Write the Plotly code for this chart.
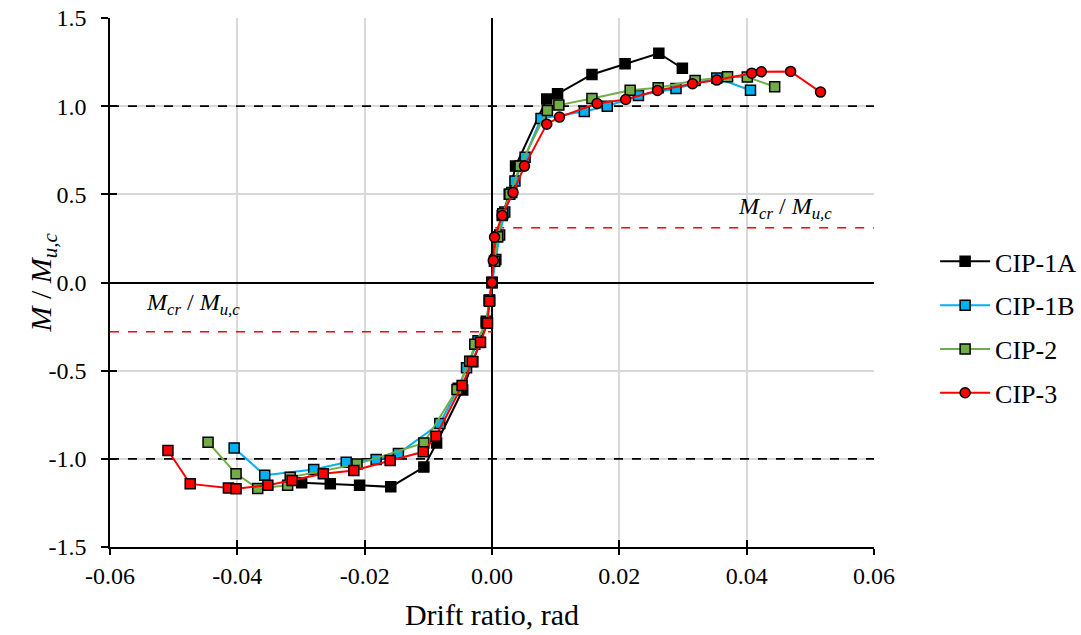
import plotly.graph_objects as go

# ---- data ----
cip1a_x = [-0.0299, -0.0254, -0.0208, -0.0159, -0.0107, -0.0087, -0.0046, -0.0030, -0.0019, -0.0008, -0.0004, 0.0,
           0.0004, 0.0008, 0.0016, 0.0027, 0.0037, 0.0086, 0.0103, 0.0157, 0.0209, 0.0262, 0.0299]
cip1a_y = [-1.136, -1.142, -1.150, -1.159, -1.047, -0.910, -0.610, -0.450, -0.340, -0.230, -0.100, 0.0,
           0.120, 0.260, 0.380, 0.500, 0.660, 1.040, 1.070, 1.180, 1.240, 1.300, 1.215]

cip1b_x = [-0.0405, -0.0357, -0.0280, -0.0229, -0.0182, -0.0147, -0.0082, -0.0053, -0.0040, -0.0022, -0.0009, -0.0004, 0.0,
           0.0006, 0.0012, 0.0020, 0.0031, 0.0036, 0.0052, 0.0077, 0.0145, 0.0181, 0.0230, 0.0289, 0.0353, 0.0406]
cip1b_y = [-0.938, -1.093, -1.060, -1.020, -1.004, -0.970, -0.800, -0.600, -0.484, -0.330, -0.220, -0.100, 0.0,
           0.130, 0.270, 0.400, 0.510, 0.575, 0.710, 0.930, 0.970, 1.000, 1.060, 1.100, 1.160, 1.090]

cip2_x = [-0.0446, -0.0402, -0.0368, -0.0321, -0.0317, -0.0212, -0.0107, -0.0055, -0.0035, -0.0027, -0.0009, -0.0004, 0.0,
          0.0004, 0.0009, 0.0017, 0.0028, 0.0044, 0.0087, 0.0105, 0.0157, 0.0217, 0.0261, 0.0319, 0.0370, 0.0401, 0.0444]
cip2_y = [-0.906, -1.085, -1.168, -1.150, -1.105, -1.030, -0.910, -0.607, -0.446, -0.350, -0.230, -0.100, 0.0,
          0.120, 0.260, 0.390, 0.500, 0.660, 0.976, 1.006, 1.044, 1.090, 1.105, 1.146, 1.167, 1.165, 1.110]

cip3_neg_x = [-0.0509, -0.0474, -0.0414, -0.0402, -0.0352, -0.0314, -0.0265, -0.0217, -0.0160, -0.0108, -0.0088,
              -0.0047, -0.0031, -0.0018, -0.0007, -0.0004, 0.0]
cip3_neg_y = [-0.953, -1.142, -1.165, -1.170, -1.150, -1.123, -1.085, -1.066, -1.010, -0.960, -0.872,
              -0.584, -0.448, -0.339, -0.229, -0.106, 0.0]
cip3_pos_x = [0.0, 0.0002, 0.0004, 0.0016, 0.0033, 0.0051, 0.0086, 0.0106, 0.0165, 0.0210, 0.0260, 0.0315,
              0.0353, 0.0408, 0.0423, 0.0469, 0.0516]
cip3_pos_y = [0.0, 0.125, 0.257, 0.380, 0.510, 0.660, 0.898, 0.938, 1.015, 1.038, 1.089, 1.127,
              1.148, 1.187, 1.195, 1.197, 1.080]

mcr_pos = 0.31
mcr_neg = -0.28
mu_level = 1.0

x_ticks = [-0.06, -0.04, -0.02, 0.0, 0.02, 0.04, 0.06]
y_ticks = [-1.5, -1.0, -0.5, 0.0, 0.5, 1.0, 1.5]
x_ticktext = [f"{v:.2f}" for v in x_ticks]
y_ticktext = [f"{v:.1f}" for v in y_ticks]

FONT = "Times New Roman, Liberation Serif, Tinos, serif"
BLUE = "#00B0F0"
GREEN = "#70AD47"
RED = "#FF0000"

fig = go.Figure()

def add(x, y, name, color, fill, symbol, showlegend=True, group=None):
    fig.add_trace(go.Scatter(
        x=x, y=y, mode="lines+markers", name=name,
        line=dict(color=color, width=2),
        marker=dict(symbol=symbol, size=10, color=fill, line=dict(color="black", width=1.5)),
        showlegend=showlegend, legendgroup=group or name,
    ))

add(cip1a_x, cip1a_y, "CIP-1A", "black", "black", "square")
add(cip1b_x, cip1b_y, "CIP-1B", BLUE, BLUE, "square")
add(cip2_x, cip2_y, "CIP-2", GREEN, GREEN, "square")
add(cip3_neg_x, cip3_neg_y, "CIP-3", RED, RED, "square", showlegend=False, group="CIP-3")
add(cip3_pos_x, cip3_pos_y, "CIP-3", RED, RED, "circle", group="CIP-3")

# invisible traces for the cross-tick overlay axes
fig.add_trace(go.Scatter(x=[], y=[], xaxis="x2", yaxis="y", showlegend=False))
fig.add_trace(go.Scatter(x=[], y=[], xaxis="x", yaxis="y2", showlegend=False))

shapes = []
for lv in (mu_level, -mu_level):
    shapes.append(dict(type="line", xref="x", yref="y", x0=-0.06, x1=0.06, y0=lv, y1=lv,
                       line=dict(color="black", width=1.8, dash="dash"), layer="between"))
shapes.append(dict(type="line", xref="x", yref="y", x0=0.0005, x1=0.06, y0=mcr_pos, y1=mcr_pos,
                   line=dict(color=RED, width=1.5, dash="dash"), layer="between"))
shapes.append(dict(type="line", xref="x", yref="y", x0=-0.06, x1=0.0, y0=mcr_neg, y1=mcr_neg,
                   line=dict(color=RED, width=1.5, dash="dash"), layer="between"))

mlabel = "<i>M</i><sub><i>cr</i></sub> / <i>M</i><sub><i>u,c</i></sub>"
annotations = [
    dict(x=0.0460, y=0.42, xref="x", yref="y", text=mlabel, showarrow=False,
         font=dict(family=FONT, size=24, color="black")),
    dict(x=-0.0470, y=-0.12, xref="x", yref="y", text=mlabel, showarrow=False,
         font=dict(family=FONT, size=24, color="black")),
    dict(x=-0.089, y=0.5, xref="paper", yref="paper", xanchor="center", yanchor="middle",
         text="<i>M</i> / <i>M</i><sub><i>u,c</i></sub>", textangle=-90, showarrow=False,
         font=dict(family=FONT, size=30, color="black")),
]

fig.update_layout(
    width=1081, height=635,
    margin=dict(l=110, r=207, t=18, b=88, autoexpand=False),
    plot_bgcolor="white", paper_bgcolor="white",
    font=dict(family=FONT, size=22, color="black"),
    shapes=shapes, annotations=annotations,
    xaxis=dict(range=[-0.06, 0.06], tickvals=x_ticks, ticktext=x_ticktext, automargin=False,
               showgrid=True, gridcolor="#D9D9D9", gridwidth=1.5,
               zeroline=True, zerolinecolor="black", zerolinewidth=1.5,
               showline=True, linecolor="black", linewidth=1.5,
               ticks="outside", ticklen=6, tickwidth=1.5, tickcolor="black",
               title=dict(text="Drift ratio, rad", font=dict(family=FONT, size=30), standoff=16),
               tickfont=dict(family=FONT, size=24)),
    xaxis2=dict(range=[-0.06, 0.06], tickvals=x_ticks, overlaying="x", anchor="y", side="bottom",
                showgrid=False, zeroline=False, showline=False, showticklabels=False,
                ticks="inside", ticklen=7, tickwidth=1.5, tickcolor="black"),
    yaxis=dict(range=[-1.5, 1.5], tickvals=y_ticks, ticktext=y_ticktext, automargin=False,
               showgrid=True, gridcolor="#D9D9D9", gridwidth=1.5,
               zeroline=True, zerolinecolor="black", zerolinewidth=1.5,
               showline=True, linecolor="black", linewidth=1.5,
               ticks="outside", ticklen=7, tickwidth=1.5, tickcolor="black",
               ticklabelstandoff=10,
               tickfont=dict(family=FONT, size=24)),
    yaxis2=dict(range=[-1.5, 1.5], tickvals=y_ticks, overlaying="y", anchor="x", side="left",
                showgrid=False, zeroline=False, showline=False, showticklabels=False,
                ticks="inside", ticklen=7, tickwidth=1.5, tickcolor="black"),
    legend=dict(x=1.08, y=0.415, xanchor="left", yanchor="middle",
                font=dict(family=FONT, size=26), tracegroupgap=7,
                bgcolor="rgba(0,0,0,0)", itemwidth=50),
)

fig.write_html("out.html")
